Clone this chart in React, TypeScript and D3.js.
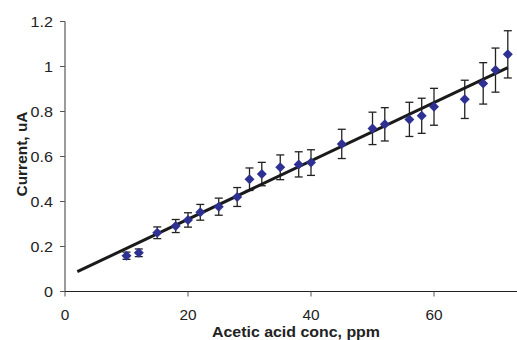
import { scaleLinear } from "d3";

const concentrations = [10, 12, 15, 18, 20, 22, 25, 28, 30, 32, 35, 38, 40, 45, 50, 52, 56, 58, 60, 65, 68, 70, 72];
const currents = [0.159, 0.172, 0.261, 0.291, 0.318, 0.352, 0.377, 0.42, 0.499, 0.522, 0.552, 0.565, 0.573, 0.656, 0.725, 0.743, 0.765, 0.781, 0.821, 0.854, 0.925, 0.984, 1.054];
const errors = [0.016, 0.017, 0.026, 0.029, 0.032, 0.035, 0.038, 0.042, 0.05, 0.052, 0.055, 0.056, 0.057, 0.065, 0.072, 0.074, 0.076, 0.078, 0.082, 0.085, 0.092, 0.098, 0.105];
const trendX = [2, 72];
const trendY = [0.088, 0.995];
const xTicks = [0, 20, 40, 60];
const yTicks = [0, 0.2, 0.4, 0.6, 0.8, 1, 1.2];

const W = 517;
const H = 340;
const font = "'Liberation Sans', Arial, sans-serif";

export default function App() {
    const x = scaleLinear().domain([0, 80]).range([65, 65 + 80 * 6.15]);
    const y = scaleLinear().domain([0, 1.2]).range([291.5, 21.5]);

    return (
        <svg width={W} height={H} style={{ position: "absolute", left: 0, top: 0, background: "#fff" }} fontFamily={font}>
            {/* y axis */}
            <line x1={65} x2={65} y1={y(1.2)} y2={y(0)} stroke="#7a7a7a" strokeWidth={1.5} />
            {yTicks.map((t) => (
                <g key={t}>
                    <line x1={60} x2={65} y1={y(t)} y2={y(t)} stroke="#555" strokeWidth={1} />
                    <text
                        transform={`translate(53,${y(t)}) scale(1.15,1)`}
                        dy="0.36em"
                        textAnchor="end"
                        fontSize={14}
                        fill="#222"
                    >
                        {t}
                    </text>
                </g>
            ))}
            {/* x axis */}
            <line x1={65} x2={W} y1={y(0)} y2={y(0)} stroke="#222" strokeWidth={1.2} />
            {xTicks.map((t) => (
                <g key={t}>
                    <line x1={x(t)} x2={x(t)} y1={y(0)} y2={y(0) + 5} stroke="#555" strokeWidth={1} />
                    <text
                        transform={`translate(${x(t)},319.5) scale(1.1,1)`}
                        textAnchor="middle"
                        fontSize={14}
                        fill="#222"
                    >
                        {t}
                    </text>
                </g>
            ))}
            <text
                x={296}
                y={337}
                textAnchor="middle"
                fontSize={14.5}
                fontWeight="bold"
                fill="#222"
                textLength={168}
                lengthAdjust="spacingAndGlyphs"
            >
                Acetic acid conc, ppm
            </text>
            <text
                transform={`translate(26.5,154) rotate(-90)`}
                textAnchor="middle"
                fontSize={14}
                fontWeight="bold"
                fill="#222"
                textLength={85}
                lengthAdjust="spacingAndGlyphs"
            >
                Current, uA
            </text>

            {/* error bars */}
            {concentrations.map((c, i) => {
                const cx = x(c);
                const top = y(currents[i] + errors[i]);
                const bot = y(currents[i] - errors[i]);
                return (
                    <g key={"e" + i} stroke="#222" strokeWidth={1.3}>
                        <line x1={cx} x2={cx} y1={top} y2={bot} />
                        <line x1={cx - 4} x2={cx + 4} y1={top} y2={top} />
                        <line x1={cx - 4} x2={cx + 4} y1={bot} y2={bot} />
                    </g>
                );
            })}

            {/* trend line */}
            <line
                x1={x(trendX[0])}
                y1={y(trendY[0])}
                x2={x(trendX[1])}
                y2={y(trendY[1])}
                stroke="#1a1a1a"
                strokeWidth={3}
            />

            {/* markers */}
            {concentrations.map((c, i) => {
                const cx = x(c);
                const cy = y(currents[i]);
                const r = 5;
                return (
                    <path
                        key={"m" + i}
                        d={`M${cx},${cy - r}L${cx + r},${cy}L${cx},${cy + r}L${cx - r},${cy}Z`}
                        fill="#2e3192"
                    />
                );
            })}
        </svg>
    );
}
